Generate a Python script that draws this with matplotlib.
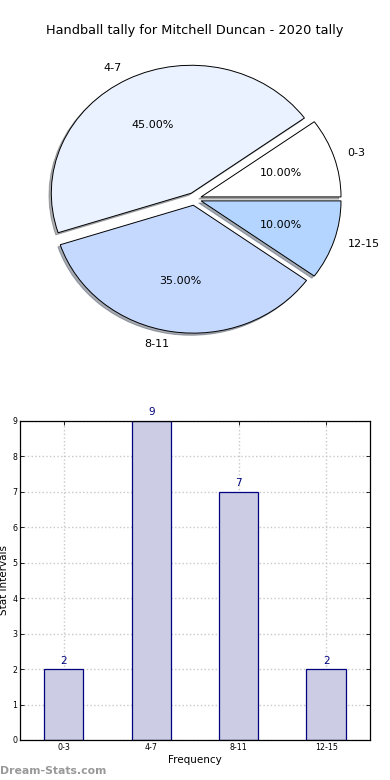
import matplotlib
matplotlib.use('Agg')
import matplotlib.pyplot as plt

# data
categories = ['0-3', '4-7', '8-11', '12-15']
counts = [2, 9, 7, 2]
pie_colors = ['#ffffff', '#ebf2ff', '#c5d9ff', '#b3d5ff']
explode = [0.05, 0.05, 0.05, 0.05]
yticks = list(range(0, 10))

BAR_FACE = '#ccccE4'
BAR_EDGE = '#000080'
GRID = '#c8c8c8'

fig = plt.figure(figsize=(3.9, 7.8), dpi=100, facecolor='white')

# --- pie ---
ax1 = fig.add_axes([0.05, 0.540, 0.897, 0.410])
wedges, texts, autotexts = ax1.pie(
    counts, labels=categories, colors=pie_colors, explode=explode,
    autopct='%.2f%%', shadow={'ox': -0.012, 'oy': -0.012, 'shade': 0.6},
    startangle=0,
    wedgeprops=dict(edgecolor='black', linewidth=0.7),
    textprops=dict(fontsize=8),
)
ax1.set_aspect('auto')
ax1.set_xlim(-1.25, 1.25)
ax1.set_ylim(-1.25, 1.25)
fig.text(0.5, 0.961, 'Handball tally for Mitchell Duncan - 2020 tally',
         ha='center', va='center', fontsize=9.3)

# --- bars ---
ax2 = fig.add_axes([0.0513, 0.0513, 0.897, 0.409])
x = list(range(len(categories)))
bars = ax2.bar(x, counts, width=0.45, color=BAR_FACE, edgecolor=BAR_EDGE,
               linewidth=0.9, zorder=2)
for xi, c in zip(x, counts):
    ax2.text(xi, c + 0.1, str(c), ha='center', va='bottom', color=BAR_EDGE,
             fontsize=7.5)
ax2.set_xlim(-0.5, 3.5)
ax2.set_ylim(0, 9)
ax2.set_xticks(x)
ax2.set_xticklabels(categories, fontsize=5.7)
ax2.set_yticks(yticks)
ax2.set_yticklabels([str(v) for v in yticks], fontsize=5.7)
ax2.tick_params(direction='in', length=3, width=0.6, top=True, right=True, pad=2)
ax2.grid(True, linestyle=':', color=GRID, linewidth=1.0, zorder=0)
ax2.set_axisbelow(True)
ax2.set_xlabel('Frequency', fontsize=7.5, labelpad=2)
ax2.set_ylabel('Stat Intervals', fontsize=7.5, labelpad=2)
ax2.yaxis.set_label_coords(-0.032, 0.5)
for s in ax2.spines.values():
    s.set_linewidth(0.9)

fig.text(0.0, 0.012, 'Dream-Stats.com', ha='left', va='center',
         fontsize=7.8, color='#999999', fontweight='bold')

fig.savefig('out.png', dpi=100)
